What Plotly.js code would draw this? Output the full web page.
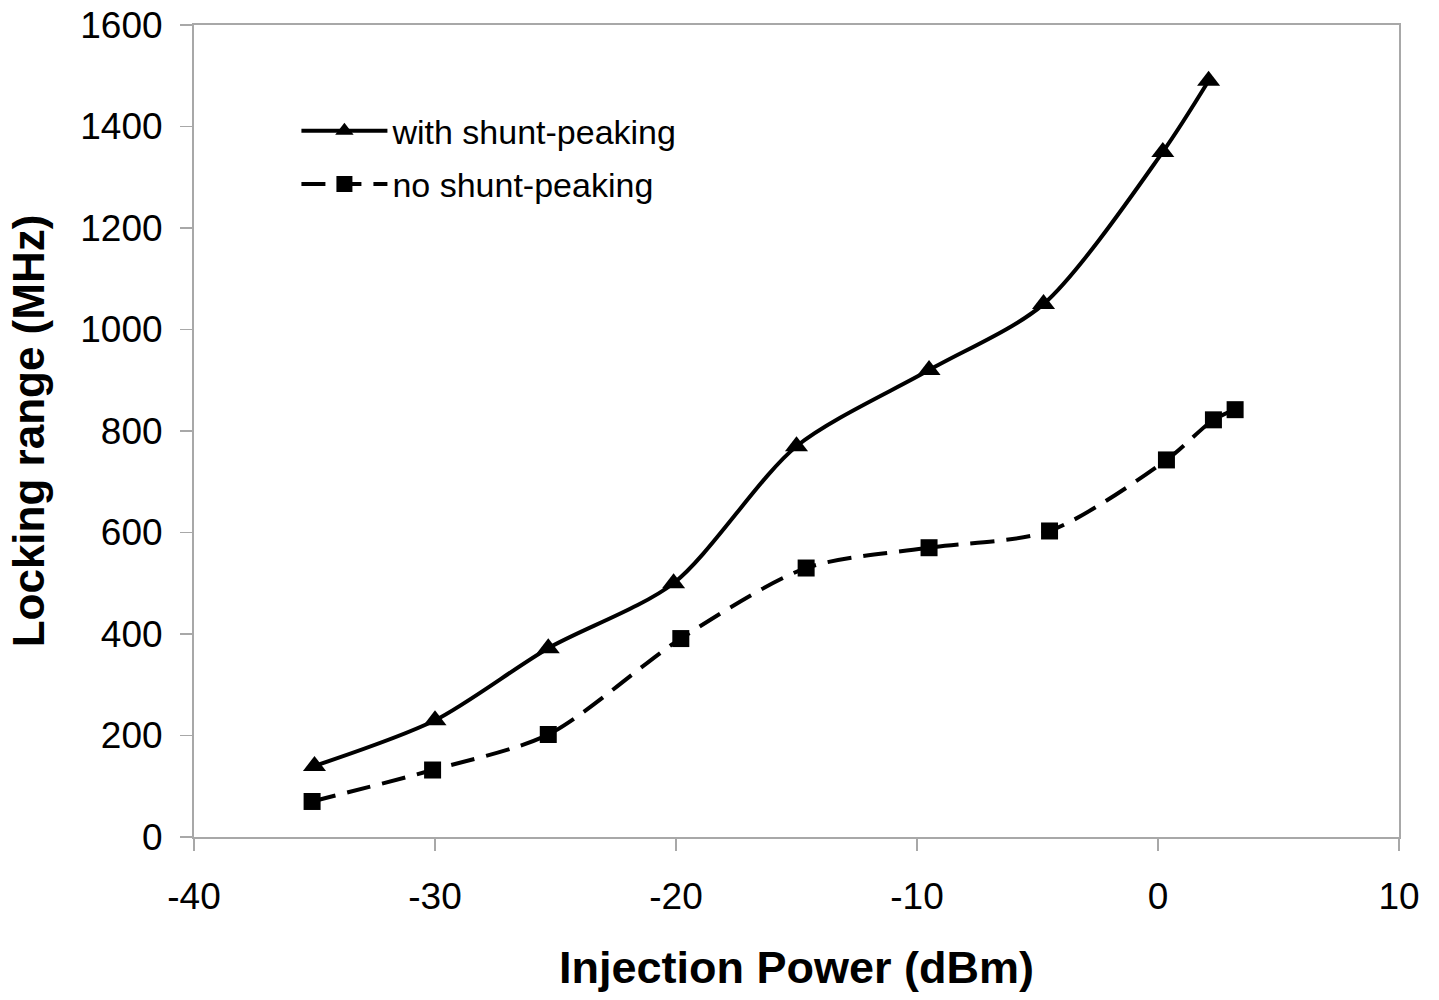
<!DOCTYPE html>
<html>
<head>
<meta charset="utf-8">
<script src="https://cdn.plot.ly/plotly-3.0.1.min.js"></script>
<style>html,body{margin:0;padding:0;background:#fff;}#chart{width:1439px;height:1000px;}</style>
</head>
<body>
<div id="chart"></div>
<script>
var withX = [-35, -30, -25.3, -20.1, -15, -9.5, -4.75, 0.2, 2.1];
var withY = [140, 230, 372, 500, 770, 920, 1050, 1350, 1490];
var noX = [-35.1, -30.1, -25.3, -19.8, -14.6, -9.5, -4.5, 0.35, 2.3, 3.2];
var noY = [70, 132, 202, 391, 530, 570, 603, 743, 822, 842];
var seriesNames = ['with shunt-peaking', 'no shunt-peaking'];
var xTicks = [-40, -30, -20, -10, 0, 10];
var yTicks = [0, 200, 400, 600, 800, 1000, 1200, 1400, 1600];

var traces = [
  {x: withX, y: withY, name: seriesNames[0], legendgroup: 'a', mode: 'lines+markers', type: 'scatter',
   line: {color: '#000', width: 4, shape: 'spline', smoothing: 0.8},
   marker: {symbol: 'triangle-up', size: 20, color: '#000'}},
  {x: noX, y: noY, name: seriesNames[1], legendgroup: 'b', mode: 'lines+markers', type: 'scatter',
   line: {color: '#000', width: 4, shape: 'spline', smoothing: 0.8, dash: '24px,12px'},
   marker: {symbol: 'square', size: 17, color: '#000'}}
];

var layout = {
  width: 1439, height: 1000,
  margin: {l: 194, r: 40, t: 25, b: 163},
  paper_bgcolor: '#fff', plot_bgcolor: '#fff',
  font: {family: 'Liberation Sans, Arial, sans-serif', color: '#000', size: 34},
  showlegend: true,
  legend: {x: 0.085, y: 0.905, xanchor: 'left', yanchor: 'top', bgcolor: 'rgba(0,0,0,0)',
           font: {size: 34}, traceorder: 'grouped', tracegroupgap: 6, itemwidth: 86},
  xaxis: {range: [-40, 10], tickvals: xTicks, ticktext: xTicks.map(String),
          showgrid: false, zeroline: false, showline: true, linecolor: '#a8a8a8', linewidth: 2,
          mirror: true, ticks: 'outside', ticklen: 12, tickcolor: '#a8a8a8', tickwidth: 1.5,
          tickfont: {size: 37}, ticklabelstandoff: 14, automargin: false,
          title: {text: '<b>Injection Power (dBm)</b>', font: {size: 45}, standoff: 35}},
  yaxis: {range: [0, 1600], tickvals: yTicks, ticktext: yTicks.map(String),
          showgrid: false, zeroline: false, showline: true, linecolor: '#a8a8a8', linewidth: 2,
          mirror: true, ticks: 'outside', ticklen: 12, tickcolor: '#a8a8a8', tickwidth: 1.5,
          tickfont: {size: 37}, ticklabelstandoff: 10, automargin: false,
          title: {text: '<b>Locking range (MHz)</b>', font: {size: 44}, standoff: 22}}
};

Plotly.newPlot('chart', traces, layout, {displayModeBar: false, staticPlot: true});
</script>
</body>
</html>
